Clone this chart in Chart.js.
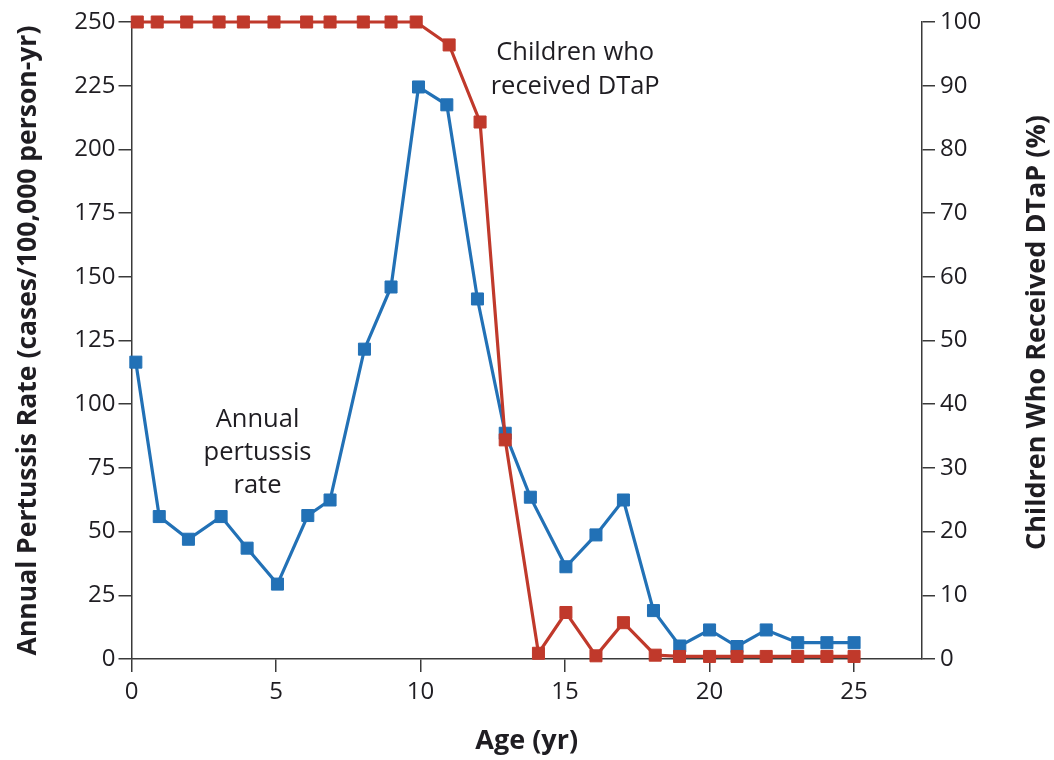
<!DOCTYPE html>
<html>
<head>
<meta charset="utf-8">
<script src="https://cdn.jsdelivr.net/npm/chart.js@4"></script>
<style>
  html, body { margin: 0; padding: 0; background: #fff; }
  #wrap { width: 1054px; height: 760px; }
</style>
</head>
<body>
<div id="wrap"><canvas id="pertussis"></canvas></div>
<script>
// pertussis rate (left axis)
const rateAges = [0.15, 0.96, 1.97, 3.1, 4.0, 5.05, 6.1, 6.87, 8.06, 8.98, 9.93, 10.91, 11.97, 12.93, 13.8, 15.03, 16.07, 17.02, 18.06, 18.97, 20.0, 20.95, 21.96, 23.05, 24.06, 25.0];
const rateValues = [116.5, 55.9, 47.0, 55.9, 43.5, 29.4, 56.3, 62.4, 121.6, 146, 224.5, 217.5, 141.3, 88.6, 63.5, 36.2, 48.7, 62.4, 19.0, 5.1, 11.4, 4.9, 11.4, 6.4, 6.4, 6.4];

// DTaP coverage (right axis)
const dtapAges = [0.2, 0.89, 1.91, 3.03, 3.87, 4.93, 6.06, 6.87, 8.02, 8.98, 9.85, 10.99, 12.06, 12.93, 14.08, 15.03, 16.07, 17.02, 18.12, 18.96, 20.0, 20.95, 21.96, 23.05, 24.06, 25.0];
const dtapPercent = [100, 100, 100, 100, 100, 100, 100, 100, 100, 100, 100, 96.4, 84.3, 34.4, 0.9, 7.3, 0.5, 5.7, 0.6, 0.4, 0.4, 0.4, 0.4, 0.4, 0.4, 0.4];

const xTicks = [0, 5, 10, 15, 20, 25];
const leftTitle = 'Annual Pertussis Rate (cases/100,000 person-yr)';
const rightTitle = 'Children Who Received DTaP (%)';
const bottomTitle = 'Age (yr)';

const BLUE = '#2271b6';
const RED = '#c0392b';
const INK = '#1f1d22';
const AXIS = '#3a3a3a';
const FONT = "'Open Sans', 'Noto Sans', sans-serif";

const toPoints = (xs, ys) => xs.map((x, i) => ({ x, y: ys[i] }));

// curve labels + right-hand title (which reads bottom to top)
const labelsPlugin = {
  id: 'labels',
  afterDraw(chart) {
    const { ctx, scales } = chart;
    ctx.save();
    ctx.fillStyle = INK;
    ctx.textAlign = 'center';
    ctx.textBaseline = 'alphabetic';
    ctx.font = `25.5px ${FONT}`;
    const x1 = scales.x.getPixelForValue(15.35);
    const y1 = scales.y.getPixelForValue(235.2);
    ['Children who', 'received DTaP'].forEach((t, i) => ctx.fillText(t, x1, y1 + i * 34));
    const x2 = scales.x.getPixelForValue(4.36);
    const y2 = scales.y.getPixelForValue(91.2);
    ['Annual', 'pertussis', 'rate'].forEach((t, i) => ctx.fillText(t, x2, y2 + i * 33));

    ctx.font = `bold 27px ${FONT}`;
    ctx.textBaseline = 'middle';
    ctx.translate(1037, (chart.chartArea.top + chart.chartArea.bottom) / 2 - 8);
    ctx.rotate(-Math.PI / 2);
    ctx.fillText(rightTitle, 0, 0);
    ctx.restore();
  },
};

const axisGrid = {
  drawOnChartArea: false,
  drawTicks: true,
  tickLength: 13,
  color: AXIS,
  lineWidth: 1.5,
};
const axisBorder = { display: true, color: AXIS, width: 1.5 };
const tickFont = { family: FONT, size: 24 };

new Chart(document.getElementById('pertussis'), {
  type: 'line',
  data: {
    datasets: [
      {
        label: 'Children who received DTaP',
        data: toPoints(dtapAges, dtapPercent),
        yAxisID: 'y1',
        borderColor: RED,
        backgroundColor: RED,
        borderWidth: 3.2,
        pointStyle: 'rect',
        pointRadius: 8.5,
        pointBorderWidth: 1,
        pointBackgroundColor: RED,
        pointBorderColor: RED,
        tension: 0,
        clip: false,
        order: 0,
      },
      {
        label: 'Annual pertussis rate',
        data: toPoints(rateAges, rateValues),
        yAxisID: 'y',
        borderColor: BLUE,
        backgroundColor: BLUE,
        borderWidth: 3.2,
        pointStyle: 'rect',
        pointRadius: 8.5,
        pointBorderWidth: 1,
        pointBackgroundColor: BLUE,
        pointBorderColor: BLUE,
        tension: 0,
        clip: false,
        order: 1,
      },
    ],
  },
  options: {
    responsive: true,
    maintainAspectRatio: false,
    animation: false,
    layout: { padding: { top: 22, left: 0, right: 0, bottom: 0 } },
    plugins: {
      legend: { display: false },
      tooltip: { enabled: false },
    },
    scales: {
      x: {
        type: 'linear',
        min: 0,
        max: 27.35,
        afterFit: (s) => { s.height = 101; },
        afterBuildTicks: (s) => { s.ticks = xTicks.map((v) => ({ value: v })); },
        ticks: { font: tickFont, color: INK, padding: 6, maxRotation: 0 },
        grid: axisGrid,
        border: axisBorder,
        title: {
          display: true,
          text: bottomTitle,
          color: INK,
          font: { family: FONT, size: 27, weight: 'bold' },
          padding: { top: 0, bottom: 2 },
        },
      },
      y: {
        position: 'left',
        min: 0,
        max: 250,
        afterFit: (s) => { s.width = 131.5; },
        ticks: { stepSize: 25, font: tickFont, color: INK, padding: 3 },
        grid: axisGrid,
        border: axisBorder,
        title: {
          display: true,
          text: leftTitle,
          color: INK,
          font: { family: FONT, size: 26.5, weight: 'bold' },
          padding: { top: 13, bottom: 0 },
        },
      },
      y1: {
        position: 'right',
        min: 0,
        max: 100,
        afterFit: (s) => { s.width = 132; },
        ticks: { stepSize: 10, font: tickFont, color: INK, padding: 5 },
        grid: axisGrid,
        border: axisBorder,
      },
    },
  },
  plugins: [labelsPlugin],
});
</script>
</body>
</html>
